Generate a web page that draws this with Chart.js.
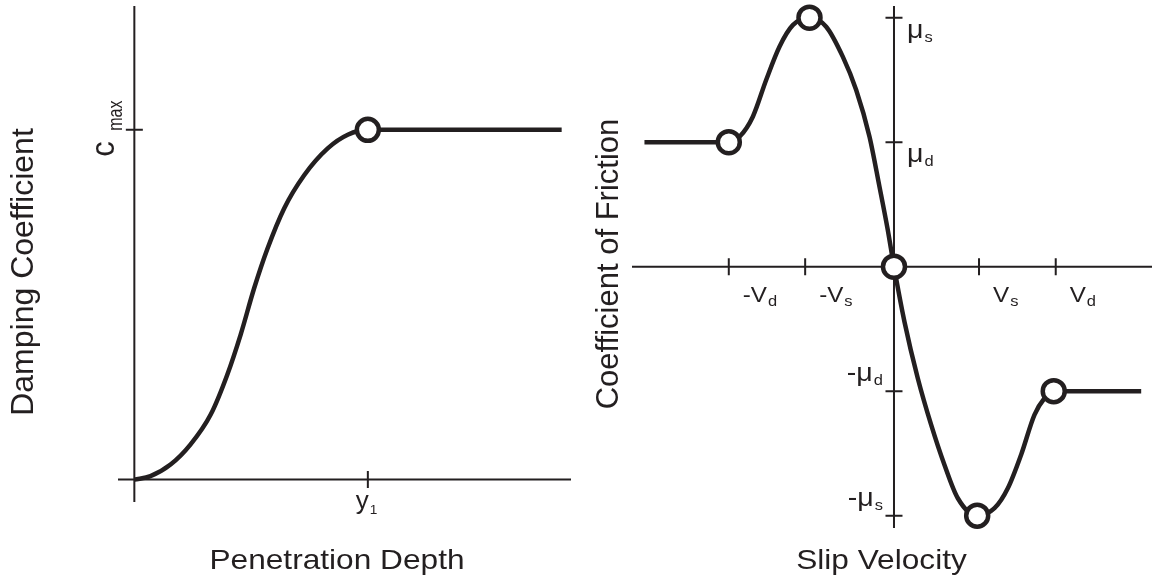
<!DOCTYPE html>
<html>
<head>
<meta charset="utf-8">
<script src="https://cdn.jsdelivr.net/npm/chart.js@4/dist/chart.umd.min.js"></script>
<style>
body{margin:0;background:#fff;width:1155px;height:581px;position:relative;overflow:hidden}
canvas{position:absolute;top:0}
#damping{left:0}
#friction{left:580px}
</style>
</head>
<body>
<canvas id="damping" width="580" height="581"></canvas>
<canvas id="friction" width="575" height="581"></canvas>
<script>
// left panel: damping coefficient vs penetration depth (y1 = 1, cmax = 1)
const dampX = [0, 0.069, 0.155, 0.24, 0.327, 0.398, 0.455, 0.513, 0.57, 0.642, 0.728, 0.828, 0.914, 1, 1.83]
const dampY = [0, 0.01, 0.043, 0.10, 0.186, 0.30, 0.414, 0.547, 0.66, 0.776, 0.871, 0.947, 0.986, 1, 1]
const dampMarkX = [1]
const dampMarkY = [1]
const dampXTicks = [1]
const dampXLabels = [["y", "1"]]
const dampYTicks = [1]
const dampYLabels = [["c", "max"]]

// right panel: coefficient of friction vs slip velocity (vs ~ 1, mu_d = 1)
const slipX = [-2.885, -1.91, -1.786, -1.632, -1.478, -1.324, -1.17, -0.977, -0.784, -0.592, -0.437, -0.283, -0.168, -0.072, 0,
  0.121, 0.275, 0.43, 0.584, 0.738, 0.962, 1.162, 1.316, 1.47, 1.624, 1.74, 1.847, 2.858]
const slipY = [1, 1, 1.044, 1.205, 1.50, 1.767, 1.94, 2.0, 1.928, 1.687, 1.419, 1.044, 0.643, 0.295, 0,
  -0.442, -0.896, -1.271, -1.593, -1.86, -2.0, -1.94, -1.78, -1.51, -1.19, -1.057, -1.0, -1.0]
const slipMarkX = [-1.91, -0.977, 0, 0.962, 1.847]
const slipMarkY = [1, 2, 0, -2, -1]
const vTicks = [-1.91, -1.027, 0.983, 1.87]
const vLabels = [["-V", "d"], ["-V", "s"], ["V", "s"], ["V", "d"]]
const muTicks = [2, 1, -1, -2]
const muLabels = [["\u03bc", "s"], ["\u03bc", "d"], ["-\u03bc", "d"], ["-\u03bc", "s"]]

const ink = "#231f20"
const fam = '"Liberation Sans", Arial, sans-serif'

function pts(xs, ys){
  return xs.map((x,i)=>({x:x, y:ys[i]}))
}

// text with a horizontal (page) stretch, optionally rotated
function txt(ctx, s, x, y, size, opt){
  opt = opt || {}
  ctx.save()
  ctx.translate(x, y)
  ctx.scale(opt.sx || 1, 1)
  if(opt.rot) ctx.rotate(opt.rot)
  ctx.font = size + "px " + fam
  ctx.fillStyle = ink
  ctx.textAlign = opt.align || "left"
  ctx.textBaseline = "alphabetic"
  ctx.fillText(s, 0, 0)
  ctx.restore()
}

function width(ctx, s, size, sx){
  ctx.save()
  ctx.font = size + "px " + fam
  const w = ctx.measureText(s).width * (sx || 1)
  ctx.restore()
  return w
}

// main glyph + subscript, left aligned at x or right aligned ending at x
function subLabel(ctx, lab, x, y, right, size){
  size = size || 22
  const w1 = width(ctx, lab[0], size, 1.1)
  const w2 = width(ctx, lab[1], 15, 1.1)
  const start = right ? x - w1 - w2 : x
  txt(ctx, lab[0], start, y, size, {sx:1.1})
  txt(ctx, lab[1], start + w1 + 1, y + 4, 15, {sx:1.1})
}

function axes(chart, xTicks, yTicks){
  const {ctx, chartArea:a, scales:{x, y}} = chart
  const x0 = x.getPixelForValue(0)
  const y0 = y.getPixelForValue(0)
  ctx.save()
  ctx.strokeStyle = ink
  ctx.lineWidth = 2
  ctx.beginPath()
  ctx.moveTo(a.left, y0); ctx.lineTo(a.right, y0)
  ctx.moveTo(x0, a.top); ctx.lineTo(x0, a.bottom)
  xTicks.forEach(v=>{
    const p = x.getPixelForValue(v)
    ctx.moveTo(p, y0 - 8.5); ctx.lineTo(p, y0 + 8.5)
  })
  yTicks.forEach(v=>{
    const p = y.getPixelForValue(v)
    ctx.moveTo(x0 - 8.5, p); ctx.lineTo(x0 + 8.5, p)
  })
  ctx.stroke()
  ctx.restore()
}

const dampPlugin = {
  id:"dampAxes",
  beforeDatasetsDraw(chart){
    axes(chart, dampXTicks, dampYTicks)
  },
  afterDraw(chart){
    const {ctx, scales:{x, y}} = chart
    const x0 = x.getPixelForValue(0)
    const y0 = y.getPixelForValue(0)
    dampYTicks.forEach((v,i)=>{
      const p = y.getPixelForValue(v)
      txt(ctx, dampYLabels[i][0], x0 - 20, p + 27, 31, {rot:-Math.PI/2, sx:1.1})
      txt(ctx, dampYLabels[i][1], x0 - 12, p + 1, 16, {rot:-Math.PI/2, sx:1.3})
    })
    dampXTicks.forEach((v,i)=>{
      const p = x.getPixelForValue(v)
      txt(ctx, dampXLabels[i][0], p - 12, y0 + 29, 26, {sx:1.0})
      txt(ctx, dampXLabels[i][1], p + 2, y0 + 34, 13, {sx:1.05})
    })
    txt(ctx, "Damping Coefficient", 33, 272, 32, {rot:-Math.PI/2, align:"center"})
    txt(ctx, "Penetration Depth", 337, 569, 28, {sx:1.13, align:"center"})
  }
}

const slipPlugin = {
  id:"slipAxes",
  beforeDatasetsDraw(chart){
    axes(chart, vTicks, muTicks)
  },
  afterDraw(chart){
    const {ctx, scales:{x, y}} = chart
    const x0 = x.getPixelForValue(0)
    const y0 = y.getPixelForValue(0)
    vTicks.forEach((v,i)=>{
      subLabel(ctx, vLabels[i], x.getPixelForValue(v) + 14, y0 + 35)
    })
    muTicks.forEach((v,i)=>{
      const p = y.getPixelForValue(v)
      if(v > 0) subLabel(ctx, muLabels[i], x0 + 13, p + 20, false, 26)
      else subLabel(ctx, muLabels[i], x0 - 12, p - 10, true, 26)
    })
    txt(ctx, "Coefficient of Friction", 38, 264, 31, {rot:-Math.PI/2, align:"center"})
    txt(ctx, "Slip Velocity", 301.5, 569, 28, {sx:1.13, align:"center"})
  }
}

function datasets(cx, cy, mx, my){
  return [
    {data:pts(mx, my), showLine:false, pointRadius:11, pointBorderWidth:4.5,
     pointBackgroundColor:"#fff", pointBorderColor:ink, order:0, clip:false},
    {data:pts(cx, cy), showLine:true, pointRadius:0, borderColor:ink, borderWidth:4.5,
     cubicInterpolationMode:"monotone", order:1, clip:false}
  ]
}

function opts(xr, yr, pad){
  return {
    responsive:false,
    animation:false,
    events:[],
    layout:{padding:pad, autoPadding:false},
    plugins:{legend:{display:false}, tooltip:{enabled:false}},
    scales:{
      x:{type:"linear", min:xr[0], max:xr[1], display:false},
      y:{type:"linear", min:yr[0], max:yr[1], display:false}
    }
  }
}

Chart.defaults.devicePixelRatio = 1

new Chart(document.getElementById("damping"), {
  type:"scatter",
  data:{datasets:datasets(dampX, dampY, dampMarkX, dampMarkY)},
  options:opts([-0.07, 1.87], [-0.064, 1.354], {left:118, right:9, top:6, bottom:79}),
  plugins:[dampPlugin]
})

new Chart(document.getElementById("friction"), {
  type:"scatter",
  data:{datasets:datasets(slipX, slipY, slipMarkX, slipMarkY)},
  options:opts([-3.029, 2.983], [-2.099, 2.094], {left:52, right:3, top:6, bottom:53}),
  plugins:[slipPlugin]
})
</script>
</body>
</html>
